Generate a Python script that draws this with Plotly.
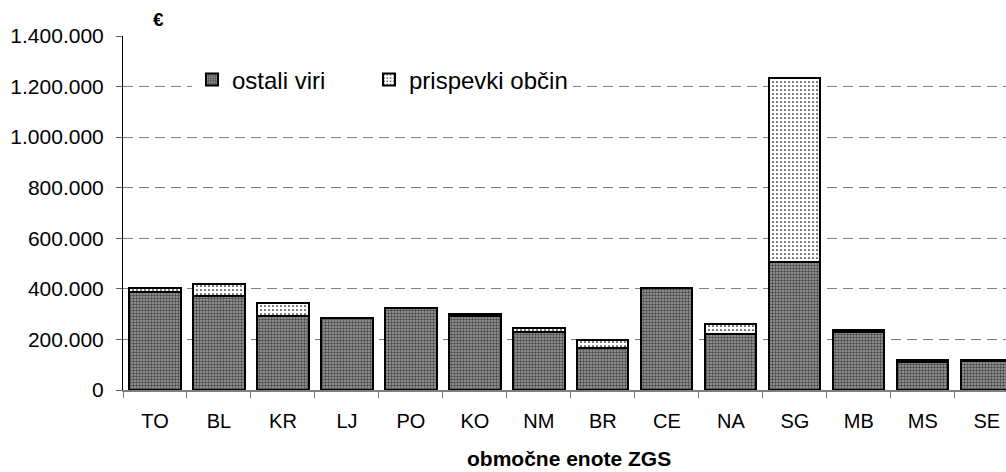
import plotly.graph_objects as go

# Regional units of the Slovenian Forest Service (ZGS)
units = ["TO", "BL", "KR", "LJ", "PO", "KO", "NM", "BR", "CE", "NA", "SG", "MB", "MS", "SE"]

# Funding in euros, split into other sources and municipal contributions
ostali_viri = [388000, 373000, 293000, 285000, 326000, 294000, 229000,
               166000, 405000, 221000, 507000, 228000, 112000, 113000]
prispevki_obcin = [16000, 47000, 50000, 0, 0, 8000, 17000,
                   33000, 0, 40000, 728000, 9000, 6000, 6000]

y_ticks = [0, 200000, 400000, 600000, 800000, 1000000, 1200000, 1400000]

FONT = "Liberation Sans, Arial, sans-serif"

fig = go.Figure()
fig.add_trace(go.Bar(
    x=units, y=ostali_viri, name="ostali viri", legend="legend",
    marker=dict(
        color="#a0a0a0",
        line=dict(color="black", width=2),
        pattern=dict(shape=".", fgcolor="#484848", bgcolor="#a0a0a0",
                     size=3, solidity=0.5, fillmode="replace"),
    ),
))
fig.add_trace(go.Bar(
    x=units, y=prispevki_obcin, name="prispevki občin", legend="legend2",
    marker=dict(
        color="white",
        line=dict(color="black", width=2),
        pattern=dict(shape=".", fgcolor="black", bgcolor="white",
                     size=4, solidity=0.14, fillmode="replace"),
    ),
))

L, T, B = 123, 36, 82
W, H = 1006, 472
plot_w = W - L
plot_h = H - T - B

legend_common = dict(
    orientation="h",
    yanchor="middle",
    y=(H - B - 80) / plot_h,
    bgcolor="white",
    font=dict(family=FONT, size=24, color="black"),
)

fig.update_layout(
    width=W, height=H,
    margin=dict(l=L, r=0, t=T, b=B, pad=0),
    barmode="stack",
    bargap=0.2,
    plot_bgcolor="white",
    paper_bgcolor="white",
    separators=",.",
    font=dict(family=FONT, size=20, color="black"),
    showlegend=True,
    legend=dict(legend_common, x=(192 - L) / plot_w, xanchor="left",
                entrywidth=150),
    legend2=dict(legend_common, x=(369 - L) / plot_w, xanchor="left"),
    xaxis=dict(
        type="category",
        range=[-0.5, 13.30],
        showline=True, linecolor="#808080", linewidth=2,
        ticks="outside", tickson="boundaries", ticklen=6,
        tickcolor="#808080", tickwidth=1,
        tickfont=dict(family=FONT, size=20),
        ticklabelstandoff=12,
        showgrid=False,
        fixedrange=True,
    ),
    yaxis=dict(
        range=[0, 1400000],
        tickvals=y_ticks,
        tickformat=",d",
        showline=True, linecolor="black", linewidth=1,
        ticks="outside", ticklen=6, tickcolor="#606060", tickwidth=1,
        tickfont=dict(family=FONT, size=21),
        ticklabelstandoff=8,
        showgrid=True, gridcolor="#808080", gridwidth=1,
        griddash="10px,6px",
        zeroline=False,
        fixedrange=True,
    ),
    annotations=[
        dict(text="<b>€</b>", xref="paper", yref="paper",
             x=(158 - L) / plot_w, y=(H - B - 20) / plot_h,
             xanchor="center", yanchor="middle", showarrow=False,
             font=dict(family=FONT, size=19)),
        dict(text="<b>območne enote ZGS</b>", xref="paper", yref="paper",
             x=(569 - L) / plot_w, y=(H - B - 458) / plot_h,
             xanchor="center", yanchor="middle", showarrow=False,
             font=dict(family=FONT, size=21)),
    ],
)

fig.write_html("out.html")
